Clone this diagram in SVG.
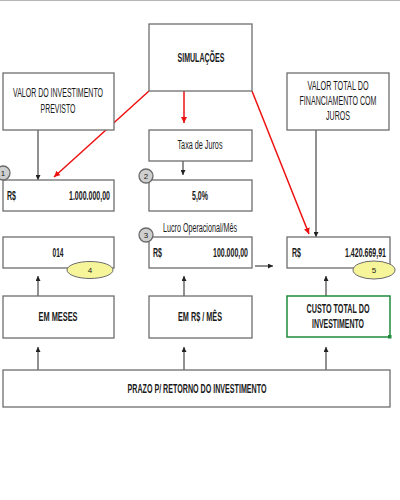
<svg xmlns="http://www.w3.org/2000/svg" width="400" height="500" viewBox="0 0 400 500">
<style>
.box{fill:#fff;stroke:#6e6e6e;stroke-width:1.3}
.t{font-family:"Liberation Sans",Arial,sans-serif;font-size:12px;fill:#1a1a1a}
.b{font-weight:bold}
.m{text-anchor:middle}
.e{text-anchor:end}
.n{font-size:8px}
.k{stroke:#222;stroke-width:1;fill:none}
.r{stroke:#ee1111;stroke-width:1.5;fill:none}
.circ{fill:#cfcfcf;stroke:#6a6a6a;stroke-width:1.3}
.ell{fill:#f7f59a;stroke:#6a6a6a;stroke-width:1}
</style>
<defs>
<marker id="ak" viewBox="0 0 10 10" refX="10" refY="5" markerWidth="5" markerHeight="5" orient="auto"><path d="M0,0L10,5L0,10z" fill="#222"/></marker>
<marker id="ar" viewBox="0 0 10 10" refX="10" refY="5" markerWidth="4" markerHeight="4" orient="auto"><path d="M0,0L10,5L0,10z" fill="#ee1111"/></marker>
</defs>
<rect width="400" height="500" fill="#fff"/>
<line x1="0" y1="0.5" x2="400" y2="0.5" stroke="#b5b5b5" stroke-width="1"/>

<g id="connectors">
<line class="k" x1="38" y1="130" x2="38" y2="180" marker-end="url(#ak)"/>
<line class="k" x1="316" y1="130" x2="316" y2="237" marker-end="url(#ak)"/>
<line class="k" x1="183" y1="161" x2="183" y2="175" marker-end="url(#ak)"/>
<line class="k" x1="255" y1="266" x2="273" y2="266" marker-end="url(#ak)"/>
<line class="k" x1="38" y1="296" x2="38" y2="276" marker-end="url(#ak)"/>
<line class="k" x1="184" y1="296" x2="184" y2="276" marker-end="url(#ak)"/>
<line class="k" x1="326" y1="296" x2="326" y2="276" marker-end="url(#ak)"/>
<line class="k" x1="38" y1="370" x2="38" y2="347" marker-end="url(#ak)"/>
<line class="k" x1="184" y1="370" x2="184" y2="347" marker-end="url(#ak)"/>
<line class="k" x1="326" y1="370" x2="326" y2="347" marker-end="url(#ak)"/>
<line class="r" x1="149" y1="91" x2="54" y2="177" marker-end="url(#ar)"/>
<line class="r" x1="184" y1="91" x2="184" y2="123" marker-end="url(#ar)"/>
<line class="r" x1="252" y1="91" x2="309" y2="234" marker-end="url(#ar)"/>
</g>

<g id="simulacoes">
<rect class="box" x="149" y="24" width="103" height="67"/>
<text class="t b m" x="201" y="62" textLength="47" lengthAdjust="spacingAndGlyphs">SIMULAÇÕES</text>
</g>
<g id="valor-investimento">
<rect class="box" x="3" y="73" width="111" height="57"/>
<text class="t m" x="58" y="97" textLength="90" lengthAdjust="spacingAndGlyphs">VALOR DO INVESTIMENTO</text>
<text class="t m" x="58" y="113" textLength="35" lengthAdjust="spacingAndGlyphs">PREVISTO</text>
</g>
<g id="valor-total">
<rect class="box" x="287" y="73" width="102" height="57"/>
<text class="t m" x="338" y="90" textLength="61" lengthAdjust="spacingAndGlyphs">VALOR TOTAL DO</text>
<text class="t m" x="338" y="105" textLength="77" lengthAdjust="spacingAndGlyphs">FINANCIAMENTO COM</text>
<text class="t m" x="338" y="120" textLength="24" lengthAdjust="spacingAndGlyphs">JUROS</text>
</g>
<g id="taxa-juros">
<rect class="box" x="149" y="130" width="103" height="31"/>
<text class="t m" x="200" y="149" textLength="45" lengthAdjust="spacingAndGlyphs">Taxa de Juros</text>
</g>
<g id="investimento-valor">
<rect class="box" x="3" y="180" width="111" height="31"/>
<text class="t b" x="7" y="200" textLength="9" lengthAdjust="spacingAndGlyphs">R$</text>
<text class="t b e" x="110" y="200" textLength="41" lengthAdjust="spacingAndGlyphs">1.000.000,00</text>
<circle class="circ" cx="3" cy="173" r="7"/>
<text class="t m n" x="3" y="176">1</text>
</g>
<g id="taxa-valor">
<rect class="box" x="149" y="180" width="103" height="31"/>
<text class="t b m" x="200" y="200" textLength="16" lengthAdjust="spacingAndGlyphs">5,0%</text>
<circle class="circ" cx="146" cy="176" r="7"/>
<text class="t m n" x="146" y="179">2</text>
</g>
<g id="prazo-valor">
<rect class="box" x="3" y="237" width="111" height="31"/>
<text class="t b m" x="58" y="257" textLength="11" lengthAdjust="spacingAndGlyphs">014</text>
<ellipse class="ell" cx="90" cy="270" rx="23" ry="8.5"/>
<text class="t m n" x="90" y="273">4</text>
</g>
<g id="lucro-valor">
<text class="t" x="163" y="232" textLength="74" lengthAdjust="spacingAndGlyphs">Lucro Operacional/Mês</text>
<rect class="box" x="149" y="237" width="103" height="31"/>
<text class="t b" x="153" y="257" textLength="9" lengthAdjust="spacingAndGlyphs">R$</text>
<text class="t b e" x="248" y="257" textLength="35" lengthAdjust="spacingAndGlyphs">100.000,00</text>
<circle class="circ" cx="146" cy="235" r="7"/>
<text class="t m n" x="146" y="238">3</text>
</g>
<g id="custo-valor">
<rect class="box" x="287" y="237" width="103" height="31"/>
<text class="t b" x="292" y="257" textLength="9" lengthAdjust="spacingAndGlyphs">R$</text>
<text class="t b e" x="386" y="257" textLength="41" lengthAdjust="spacingAndGlyphs">1.420.669,91</text>
<ellipse class="ell" cx="374" cy="270" rx="21" ry="9"/>
<text class="t m n" x="374" y="273">5</text>
</g>
<g id="em-meses">
<rect class="box" x="3" y="296" width="111" height="42"/>
<text class="t b m" x="58" y="321" textLength="39" lengthAdjust="spacingAndGlyphs">EM MESES</text>
</g>
<g id="em-rs-mes">
<rect class="box" x="149" y="296" width="103" height="42"/>
<text class="t b m" x="200" y="321" textLength="44" lengthAdjust="spacingAndGlyphs">EM R$ / MÊS</text>
</g>
<g id="custo-total">
<rect x="287" y="296" width="103" height="41" fill="#fff" stroke="#1f8a3c" stroke-width="1.5"/>
<rect x="388" y="335" width="3.5" height="3.5" fill="#1f8a3c"/>
<text class="t b m" x="338" y="313" textLength="63" lengthAdjust="spacingAndGlyphs">CUSTO TOTAL DO</text>
<text class="t b m" x="338" y="328" textLength="52" lengthAdjust="spacingAndGlyphs">INVESTIMENTO</text>
</g>
<g id="prazo">
<rect class="box" x="3" y="370" width="387" height="37"/>
<text class="t b m" x="197" y="393" textLength="139" lengthAdjust="spacingAndGlyphs">PRAZO P/ RETORNO DO INVESTIMENTO</text>
</g>
</svg>
